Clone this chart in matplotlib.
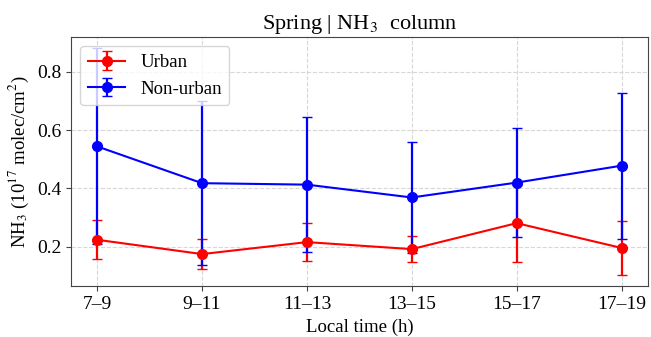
import matplotlib
matplotlib.use("Agg")
import matplotlib.pyplot as plt

plt.rcParams.update({
    'font.family': 'serif',
    'font.serif': ['Liberation Serif', 'DejaVu Serif'],
    'mathtext.fontset': 'stix',
    'font.size': 13.5,
    'axes.edgecolor': '#444444',
    'xtick.color': '#444444',
    'ytick.color': '#444444',
    'xtick.labelcolor': 'black',
    'ytick.labelcolor': 'black',
})

# local time bins
time_bins = ['7–9', '9–11', '11–13', '13–15', '15–17', '17–19']

# column means and std (10^17 molec/cm^2)
urban_mean = [0.224, 0.175, 0.216, 0.192, 0.281, 0.196]
urban_std = [0.067, 0.050, 0.064, 0.045, 0.132, 0.092]
nonurban_mean = [0.544, 0.418, 0.413, 0.369, 0.420, 0.478]
nonurban_std = [0.336, 0.282, 0.231, 0.189, 0.186, 0.250]

x = list(range(len(time_bins)))

fig = plt.figure(figsize=(6.51, 3.37), dpi=100)
ax = fig.add_axes([0.109, 0.151, 0.886, 0.739])

ax.errorbar(x, urban_mean, yerr=urban_std, color='red', marker='o',
            markersize=7, linewidth=1.5, elinewidth=1.6, capsize=3.5,
            label='Urban')
ax.errorbar(x, nonurban_mean, yerr=nonurban_std, color='blue', marker='o',
            markersize=7, linewidth=1.5, elinewidth=1.6, capsize=3.5,
            label='Non-urban')

ax.set_xticks(x)
ax.set_xticklabels(time_bins, fontsize=14)
ax.set_yticks([0.2, 0.4, 0.6, 0.8])
ax.tick_params(axis='y', labelsize=14)
ax.set_xlabel('Local time (h)')
ax.set_ylabel(r'NH$_3$ (10$^{17}$ molec/cm$^2$)')
ax.set_title(r'Spring | NH$_3$  column', fontsize=16)
ax.grid(True, linestyle='--', color='lightgray', alpha=0.9)
ax.legend(loc='upper left')

fig.savefig('out.png', dpi=100)
